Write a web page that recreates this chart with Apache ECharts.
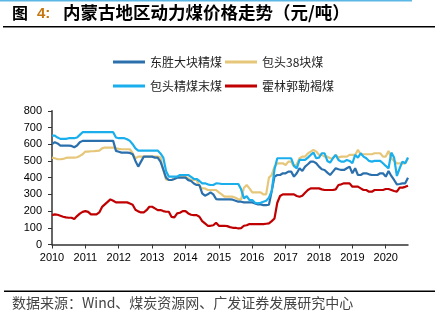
<!DOCTYPE html>
<html><head><meta charset="utf-8">
<script src="https://cdn.jsdelivr.net/npm/echarts@6/dist/echarts.min.js"></script>
<style>html,body{margin:0;padding:0;background:#fff}#c{width:443px;height:321px}</style>
</head><body><div id="c"></div>
<script>
// monthly data, Jan 2010 .. Sep 2020
var startYear = 2010;
var yearTicks = [2010,2011,2012,2013,2014,2015,2016,2017,2018,2019,2020];
var seriesNames = ['东胜大块精煤','包头38块煤','包头精煤末煤','霍林郭勒褐煤'];
var dongsheng = [
 600,612,605,592,592,592,592,590,582,592,612,620,
 620,620,620,620,620,620,620,620,620,620,620,560,
 555,550,550,550,548,540,500,466,496,526,526,526,
 526,520,520,496,450,400,386,386,392,400,400,400,
 400,385,380,365,356,356,306,292,300,312,300,272,
 270,270,270,270,270,268,262,256,256,252,252,252,
 252,245,240,240,236,236,238,320,406,416,416,426,
 426,436,436,406,426,456,440,466,480,496,496,486,
 466,450,446,430,416,436,456,450,446,446,456,466,
 426,456,416,416,426,426,420,416,416,416,426,426,
 406,440,410,386,360,362,366,366,400];
var baotou38 = [
 520,516,510,510,512,518,520,520,520,522,530,540,
 556,556,558,558,560,562,575,580,580,580,580,575,
 572,570,570,570,570,546,516,526,526,526,526,526,
 526,526,526,520,446,390,386,386,395,406,406,406,
 406,395,386,386,386,350,336,336,326,326,326,326,
 312,300,286,286,286,286,280,270,270,340,356,336,
 312,312,312,312,300,300,400,416,466,486,486,486,
 476,496,496,466,480,516,526,526,545,556,566,556,
 536,536,526,526,516,516,536,520,526,526,526,536,
 536,536,566,540,540,540,540,540,546,546,546,526,
 526,560,516,500,486,486,486,486,516];
var baotouFine = [
 652,652,640,632,632,632,636,636,636,640,656,672,
 672,672,672,672,672,672,672,672,672,672,672,640,
 636,636,636,630,620,600,575,562,562,562,562,562,
 562,562,562,545,520,440,406,406,406,406,416,416,
 416,416,405,392,392,380,366,366,360,356,356,366,
 365,362,362,362,362,362,362,362,330,276,290,266,
 266,250,246,250,256,262,280,320,450,516,516,516,
 516,516,516,470,456,506,506,506,520,536,550,516,
 520,546,546,500,490,516,536,506,496,496,506,500,
 486,536,520,546,526,516,500,496,500,500,500,486,
 470,456,550,520,410,456,496,486,520];
var huolinguole = [
 176,180,178,172,166,162,160,160,152,170,185,195,
 200,195,180,180,180,192,225,240,255,270,262,252,
 252,252,252,252,245,238,208,198,192,192,205,226,
 226,216,206,206,200,196,196,165,162,186,190,200,
 200,186,178,176,176,166,140,126,112,112,115,130,
 112,112,112,110,104,100,100,96,98,112,115,122,
 122,122,122,122,122,124,126,140,156,250,290,300,
 300,300,300,300,290,286,292,310,326,336,336,336,
 336,330,326,326,326,326,330,356,360,366,366,366,
 346,346,346,336,326,326,316,316,326,326,326,326,
 332,332,326,320,316,340,340,345,352];
var colors = ['#2B70AC','#E6C77A','#1AAFEC','#C00000'];

function toPairs(arr){ return arr.map(function(v,i){ return [startYear + i/12, v]; }); }
var allData = [dongsheng, baotou38, baotouFine, huolinguole];
var xMax = startYear + (dongsheng.length-1)/12;

var chart = echarts.init(document.getElementById('c'), null, {renderer:'canvas'});
var lblFont = {fontFamily:'"Liberation Sans", Arial, sans-serif', fontSize:11, color:'#000'};
var legendText = {fontFamily:'"Noto Sans CJK SC", sans-serif', fontSize:12, color:'#222'};
chart.setOption({
  animation:false,
  color: colors,
  grid:{left:52, right:35, top:110.8, bottom:76.5, containLabel:false},
  legend:[
    {data:[seriesNames[0],seriesNames[1]], left:108, top:51, itemWidth:32, itemHeight:3, itemGap:3, icon:'rect', textStyle:legendText},
    {data:[seriesNames[2],seriesNames[3]], left:108, top:75, itemWidth:32, itemHeight:3, itemGap:3, icon:'rect', textStyle:legendText}
  ],
  xAxis:{type:'value', min:startYear, max:xMax, interval:1,
    axisLine:{lineStyle:{color:'#333', width:1.5}},
    axisTick:{show:true, length:4, lineStyle:{color:'#333'}, customValues: yearTicks},
    axisLabel:Object.assign({margin:8, customValues: yearTicks, formatter:function(v){return Math.abs(v-Math.round(v))<1e-6 ? String(Math.round(v)) : '';}}, lblFont),
    splitLine:{show:false}},
  yAxis:{type:'value', min:0, max:800, interval:100,
    axisLine:{show:true, lineStyle:{color:'#333', width:1.5}},
    axisTick:{show:true, length:4, lineStyle:{color:'#333'}},
    axisLabel:Object.assign({margin:10}, lblFont),
    splitLine:{show:false}},
  series: seriesNames.map(function(n,i){
    return {name:n, type:'line', data:toPairs(allData[i]), showSymbol:false, symbol:'none',
      lineStyle:{width:2.2, color:colors[i]}, itemStyle:{color:colors[i]}, z: (i===3?5:(i===2?4:(i===0?3:2)))};
  }),
  graphic:[
    {type:'rect', shape:{x:0,y:0,width:412,height:1.5}, style:{fill:'#5BB7E6'}},
    {type:'text', left:12, top:5, style:{text:'图', font:'bold 16px "Noto Sans CJK SC", sans-serif', fill:'#000'}},
    {type:'text', left:37, top:6, style:{text:'4:', font:'bold 15px "Liberation Sans", Arial, sans-serif', fill:'#C5760E'}},
    {type:'text', left:63, top:4, style:{text:'内蒙古地区动力煤价格走势（元/吨）', font:'bold 17.5px "Noto Sans CJK SC", sans-serif', fill:'#000'}},
    {type:'rect', shape:{x:3,y:26,width:432,height:1.5}, style:{fill:'#000'}},
    {type:'rect', shape:{x:4,y:290.5,width:431,height:1.5}, style:{fill:'#000'}},
    {type:'text', left:12, top:296, style:{text:'数据来源：Wind、煤炭资源网、广发证券发展研究中心', font:'14px "Noto Sans CJK SC", sans-serif', fill:'#444'}}
  ]
});
</script></body></html>
